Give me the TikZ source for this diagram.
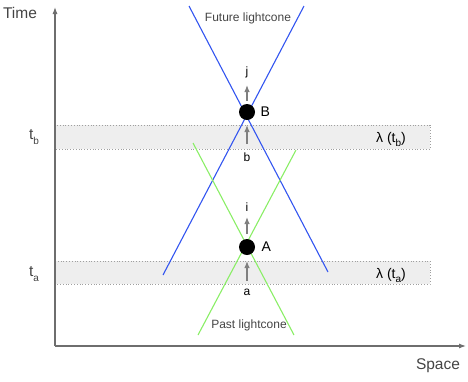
\documentclass[tikz,border=0pt]{standalone}
\usepackage{fontspec}
\setmainfont{Liberation Sans}
\usetikzlibrary{arrows.meta,positioning}
\definecolor{axisgray}{HTML}{6E6E6E}
\definecolor{textgray}{HTML}{444444}
\definecolor{coneblue}{HTML}{3355F0}
\definecolor{conegreen}{HTML}{8AEE66}
\definecolor{bandfill}{HTML}{EEEEEE}
\begin{document}
\begin{tikzpicture}[x=1pt,y=-1pt,
  band/.style={fill=bandfill,draw=gray!75,dotted,line width=0.8pt},
  axisline/.style={draw=axisgray,line width=1.1pt,-{Latex[length=7pt,width=5pt]}},
  event/.style={circle,fill=black,minimum size=16pt,inner sep=0pt},
  flow/.style={draw=gray,line width=1.2pt,-{Latex[length=7pt,width=5.5pt]}},
  bigtext/.style={font=\fontsize{15.5}{16}\selectfont,text=textgray},
  smalltext/.style={font=\fontsize{12}{13}\selectfont,text=textgray},
  labeltext/.style={font=\fontsize{12}{13}\selectfont,text=black}]
\useasboundingbox (0,0) rectangle (468,381);
% simultaneity bands
\draw[band] (55,125) rectangle (430,149);
\draw[band] (55,261) rectangle (430,284);
% axes
\coordinate (origin) at (55,346);
\coordinate (timetip) at (55,7);
\coordinate (spacetip) at (466,346);
\draw[axisline] (origin) -- (timetip);
\draw[axisline] (origin) -- (spacetip);
\node[bigtext] (time) at (20,13) {Time};
\node[bigtext] (space) at (438,366) {Space};
% time labels
\node[bigtext,anchor=base] (tb) at (34,139) {t\raisebox{-5pt}{\fontsize{10}{10}\selectfont b}};
\node[bigtext,anchor=base] (ta) at (34,276) {t\raisebox{-5pt}{\fontsize{10}{10}\selectfont a}};
\node[font=\fontsize{14}{15}\selectfont,anchor=base] (lamb) at (391,142) {λ (t\raisebox{-4pt}{\fontsize{10}{10}\selectfont b})};
\node[font=\fontsize{14}{15}\selectfont,anchor=base] (lama) at (391,278) {λ (t\raisebox{-4pt}{\fontsize{10}{10}\selectfont a})};
% light cones
\coordinate (fl1) at (189,6);
\coordinate (fl2) at (328,272);
\coordinate (fr1) at (304,6);
\coordinate (fr2) at (163,275);
\coordinate (pl1) at (193,143);
\coordinate (pl2) at (294,335);
\coordinate (pr1) at (296,150);
\coordinate (pr2) at (198,335);
\draw[coneblue,line width=1.1pt] (fl1) -- (fl2);
\draw[coneblue,line width=1.1pt] (fr1) -- (fr2);
\draw[conegreen,line width=1.1pt] (pl1) -- (pl2);
\draw[conegreen,line width=1.1pt] (pr1) -- (pr2);
\node[smalltext] (future) at (248,18) {Future lightcone};
\node[smalltext] (past) at (249,325) {Past lightcone};
% events
\node[event] (B) at (247,112) {};
\node[event] (A) at (247,247) {};
\node[font=\fontsize{14}{15}\selectfont,right=2pt of B] (Blabel) {B};
\node[font=\fontsize{14}{15}\selectfont,right=3pt of A] (Alabel) {A};
% flows
\coordinate (j0) at (247,101);
\coordinate (j1) at (247,85);
\coordinate (b0) at (247,144);
\coordinate (b1) at (247,125);
\coordinate (i0) at (247,234);
\coordinate (i1) at (247,217);
\coordinate (a0) at (247,281);
\coordinate (a1) at (247,261);
\draw[flow] (j0) -- (j1);
\draw[flow] (b0) -- (b1);
\draw[flow] (i0) -- (i1);
\draw[flow] (a0) -- (a1);
\node[labeltext] (jlabel) at (247,72) {j};
\node[labeltext] (blabel) at (247,157) {b};
\node[labeltext] (ilabel) at (247,207) {i};
\node[labeltext] (alabel) at (247,292) {a};
\end{tikzpicture}
\end{document}
